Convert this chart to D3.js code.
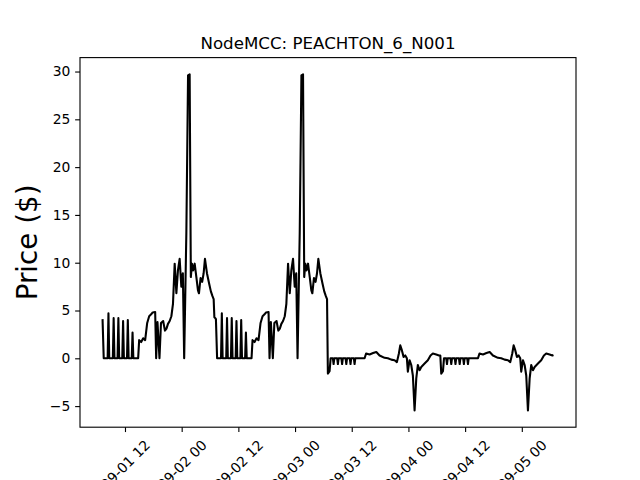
<!DOCTYPE html>
<html>
<head>
<meta charset="utf-8">
<script src="https://cdn.jsdelivr.net/npm/d3@7"></script>
<style>
  html, body { margin: 0; padding: 0; background: #fff; }
  svg { display: block; font-family: "DejaVu Sans", sans-serif; }
</style>
</head>
<body>
<svg id="chart" width="640" height="480"></svg>
<script>
// ---- data (hours since 2023-09-01 00:00, price in $) ----
const chartTitle = "NodeMCC: PEACHTON_6_N001";
const yLabel = "Price ($)";

const hours = [
  // 09-01 / 09-02
  7.25, 7.5,
  8.33, 8.5, 8.67, 9.43, 9.6, 9.77, 10.43, 10.6, 10.77, 11.43, 11.6, 11.77, 12.43, 12.6, 12.77, 13.43, 13.6, 13.77,
  14.79, 15.0, 15.43, 15.85, 16.27, 16.7, 17.12, 17.54, 17.86, 18.39, 18.6, 18.88, 19.3, 19.62, 20.08, 20.46, 20.78,
  21.1, 21.46, 21.82, 22.16, 22.52, 22.88, 23.21, 23.57, 23.93, 24.25, 24.53, 24.99, 25.35, 25.69, 25.94, 26.18,
  26.43, 26.75, 27.11, 27.45, 27.66, 28.0, 28.34, 28.65, 28.93, 29.35, 29.82, 30.18, 30.52, 30.77, 30.92, 31.11,
  // 09-02 / 09-03
  31.25, 31.5,
  32.33, 32.5, 32.67, 33.43, 33.6, 33.77, 34.43, 34.6, 34.77, 35.43, 35.6, 35.77, 36.43, 36.6, 36.77, 37.43, 37.6, 37.77,
  38.79, 39.0, 39.43, 39.85, 40.27, 40.7, 41.12, 41.54, 41.86, 42.39, 42.6, 42.88, 43.3, 43.62, 44.08, 44.46, 44.78,
  45.1, 45.46, 45.82, 46.16, 46.52, 46.88, 47.21, 47.57, 47.93, 48.25, 48.53, 48.99, 49.35, 49.69, 49.94, 50.18,
  50.43, 50.75, 51.11, 51.45, 51.66, 52.0, 52.34, 52.65, 52.93, 53.35, 53.82, 54.18, 54.52, 54.77,
  // 09-03 / 09-04
  54.95, 55.31, 55.53,
  56.01, 56.16, 56.31, 56.92, 57.07, 57.22, 57.81, 57.96, 58.11, 58.7, 58.85, 59.0, 59.59, 59.74, 59.89, 60.45, 60.6, 60.75,
  61.03, 62.72, 63.04, 63.78, 64.52, 65.2, 65.89, 66.95, 67.65, 68.37, 69.07, 69.56, 69.98, 70.27, 70.61, 70.97,
  71.33, 71.67, 71.88, 72.24, 72.6, 72.94, 73.3, 73.66, 74.0, 74.36, 74.72, 75.42, 76.11, 76.68, 77.17, 77.89, 78.48, 78.75,
  // 09-04 / 09-05
  78.95, 79.31, 79.53,
  80.01, 80.16, 80.31, 80.92, 81.07, 81.22, 81.81, 81.96, 82.11, 82.7, 82.85, 83.0, 83.59, 83.74, 83.89, 84.45, 84.6, 84.75,
  85.03, 86.72, 87.04, 87.78, 88.52, 89.2, 89.89, 90.95, 91.65, 92.37, 93.07, 93.56, 93.98, 94.27, 94.61, 94.97,
  95.33, 95.67, 95.88, 96.24, 96.6, 96.94, 97.3, 97.66, 98.0, 98.36, 98.72, 99.42, 100.11, 100.68, 101.17, 101.89, 102.48, 102.7
];

const prices = [
  // 09-01 / 09-02
  4.1, 0,
  0, 4.7, 0, 0, 4.2, 0, 0, 4.2, 0, 0, 3.9, 0, 0, 4.0, 0, 0, 2.7, 0,
  0, 1.9, 1.7, 2.1, 1.9, 3.7, 4.4, 4.6, 4.8, 4.85, 0, 3.8, 0, 3.7, 3.9, 2.9, 3.1,
  3.6, 3.9, 4.4, 5.7, 9.9, 6.8, 9.2, 10.4, 7.5, 8.9, 0, 13.1, 29.6, 29.7, 8.5, 9.9,
  9.2, 9.9, 8.5, 7.1, 6.8, 8.4, 8.0, 8.9, 10.4, 8.9, 7.8, 7.0, 6.5, 6.2, 4.3, 4.2,
  // 09-02 / 09-03
  4.1, 0,
  0, 4.7, 0, 0, 4.2, 0, 0, 4.2, 0, 0, 3.9, 0, 0, 4.0, 0, 0, 2.7, 0,
  0, 1.9, 1.7, 2.1, 1.9, 3.7, 4.4, 4.6, 4.8, 4.85, 0, 3.8, 0, 3.7, 3.9, 2.9, 3.1,
  3.6, 3.9, 4.4, 5.7, 9.9, 6.8, 9.2, 10.4, 7.5, 8.9, 0, 13.1, 29.6, 29.7, 8.5, 9.9,
  9.2, 9.9, 8.5, 7.1, 6.8, 8.4, 8.0, 8.9, 10.4, 8.9, 7.8, 7.0, 6.5, 6.2,
  // 09-03 / 09-04
  -1.6, -1.35, 0,
  0, -0.6, 0, 0, -0.6, 0, 0, -0.6, 0, 0, -0.6, 0, 0, -0.6, 0, 0, -0.6, 0,
  0, 0, 0.5, 0.4, 0.55, 0.66, 0.3, 0.05, 0.0, -0.14, -0.2, -0.4, 0.5, 1.35, 0.85, 0.15,
  0.3, 0.0, -1.4, -0.2, -0.7, -1.8, -5.45, -2.1, -0.7, -1.25, -0.9, -0.55, -0.2, 0.3, 0.5, 0.4, 0.3, 0.3,
  // 09-04 / 09-05
  -1.6, -1.35, 0,
  0, -0.6, 0, 0, -0.6, 0, 0, -0.6, 0, 0, -0.6, 0, 0, -0.6, 0, 0, -0.6, 0,
  0, 0, 0.5, 0.4, 0.55, 0.66, 0.3, 0.05, 0.0, -0.14, -0.2, -0.4, 0.5, 1.35, 0.85, 0.15,
  0.3, 0.0, -1.4, -0.2, -0.7, -1.8, -5.45, -2.1, -0.7, -1.25, -0.9, -0.55, -0.2, 0.3, 0.5, 0.4, 0.3, 0.35
];

const xTickHours = [12, 24, 36, 48, 60, 72, 84, 96];
const yTicks = [-5, 0, 5, 10, 15, 20, 25, 30];

(function () {
  // ---- layout (matplotlib default figure geometry) ----
  const PT = 100 / 72;
  const axL = 80, axR = 576, axT = 57.6, axB = 427.2;
  const tickLen = 3.5 * PT, tickPad = 3.5 * PT;
  const tickFont = 10 * PT, titleFont = 12 * PT, labelFont = 20 * PT;

  const base = new Date(2023, 8, 1, 0, 0, 0);
  const toDate = h => new Date(base.getTime() + h * 3600 * 1000);
  const data = hours.map((h, i) => ({ t: toDate(h), v: prices[i] }));

  const tExt = d3.extent(data, d => d.t.getTime());
  const tPad = (tExt[1] - tExt[0]) * 0.05;
  const vExt = d3.extent(data, d => d.v);
  const vPad = (vExt[1] - vExt[0]) * 0.05;

  const x = d3.scaleTime()
    .domain([new Date(tExt[0] - tPad), new Date(tExt[1] + tPad)])
    .range([axL, axR]);
  const y = d3.scaleLinear()
    .domain([vExt[0] - vPad, vExt[1] + vPad])
    .range([axB, axT]);

  const svg = d3.select("#chart");

  // line
  const line = d3.line().x(d => x(d.t)).y(d => y(d.v));
  svg.append("path")
    .datum(data)
    .attr("d", line)
    .attr("fill", "none")
    .attr("stroke", "#000")
    .attr("stroke-width", 1.5 * PT)
    .attr("stroke-linejoin", "round");

  // frame (spines)
  svg.append("rect")
    .attr("x", axL).attr("y", axT)
    .attr("width", axR - axL).attr("height", axB - axT)
    .attr("fill", "none").attr("stroke", "#000").attr("stroke-width", 0.8 * PT);

  // y axis
  const fmtY = v => (v < 0 ? "\u2212" + Math.abs(v) : String(v));
  const yAxis = svg.append("g")
    .attr("transform", `translate(${axL},0)`)
    .call(d3.axisLeft(y).tickValues(yTicks).tickSize(tickLen).tickPadding(tickPad).tickFormat(fmtY));
  yAxis.select(".domain").remove();
  yAxis.selectAll(".tick line").attr("stroke", "#000").attr("stroke-width", 0.8 * PT);
  yAxis.selectAll(".tick text")
    .attr("fill", "#000")
    .style("font-family", "DejaVu Sans")
    .style("font-size", tickFont + "px");

  // x axis
  const fmtX = d3.timeFormat("%m-%d %H");
  const xAxis = svg.append("g")
    .attr("transform", `translate(0,${axB})`)
    .call(d3.axisBottom(x).tickValues(xTickHours.map(toDate)).tickSize(tickLen).tickFormat(fmtX));
  xAxis.select(".domain").remove();
  xAxis.selectAll(".tick line").attr("stroke", "#000").attr("stroke-width", 0.8 * PT);
  xAxis.selectAll(".tick text")
    .attr("fill", "#000")
    .style("font-family", "DejaVu Sans")
    .style("font-size", tickFont + "px")
    .attr("text-anchor", "middle")
    .attr("dy", null)
    .each(function () {
      const w = this.getComputedTextLength();
      const h = tickFont * 1.164;
      const bboxH = (w + h) * Math.SQRT1_2;
      const cy = tickLen + tickPad + bboxH / 2;
      d3.select(this)
        .attr("y", 0)
        .attr("transform", `translate(0,${cy}) rotate(-45)`)
        .attr("dy", (0.346 * tickFont) + "px");
    });

  // title
  svg.append("text")
    .attr("x", (axL + axR) / 2).attr("y", axT - 6 * PT)
    .attr("text-anchor", "middle")
    .style("font-size", titleFont + "px")
    .attr("fill", "#000")
    .text(chartTitle);

  // y label
  svg.append("text")
    .attr("transform", `translate(36.5,${(axT + axB) / 2}) rotate(-90)`)
    .attr("text-anchor", "middle")
    .style("font-size", labelFont + "px")
    .attr("fill", "#000")
    .text(yLabel);
})();
</script>
</body>
</html>
